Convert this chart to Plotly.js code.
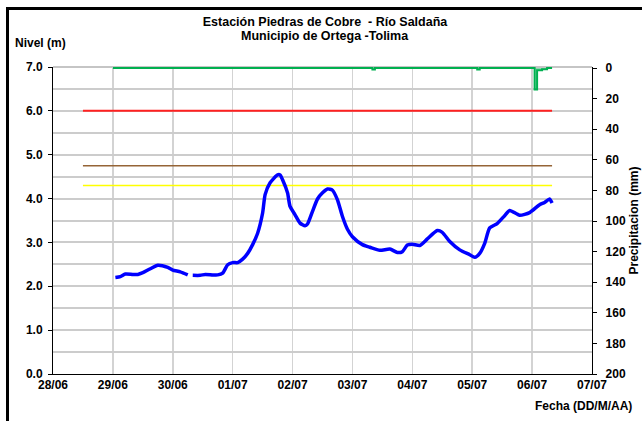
<!DOCTYPE html>
<html><head><meta charset="utf-8">
<script src="https://cdn.plot.ly/plotly-3.0.1.min.js"></script>
<style>
html,body{margin:0;padding:0;overflow:hidden;background:#fff;}
#chart{position:absolute;left:0;top:0;width:642px;height:421px;}
#frame{position:absolute;left:6px;top:7px;width:700px;height:500px;border-left:3px solid #000;border-top:3px solid #000;pointer-events:none;}
</style></head><body>
<div id="chart"></div><div id="frame"></div>
<script>
// ---- Data ----
const levelTimes = [
 '2011-06-29 01:00','2011-06-29 03:00','2011-06-29 05:00','2011-06-29 08:00','2011-06-29 10:00',
 '2011-06-29 12:00','2011-06-29 15:00','2011-06-29 18:00','2011-06-29 22:00','2011-06-30 00:00',
 '2011-06-30 03:00','2011-06-30 06:00','2011-06-30 07:00','2011-06-30 08:00','2011-06-30 11:00',
 '2011-06-30 13:00','2011-06-30 16:00','2011-06-30 18:00','2011-06-30 20:00','2011-06-30 22:00',
 '2011-07-01 00:00','2011-07-01 02:00','2011-07-01 04:00','2011-07-01 06:00','2011-07-01 08:00',
 '2011-07-01 10:00','2011-07-01 12:00','2011-07-01 13:00','2011-07-01 15:00','2011-07-01 18:00',
 '2011-07-01 19:00','2011-07-01 20:00','2011-07-01 22:00','2011-07-01 23:00','2011-07-02 01:00',
 '2011-07-02 03:00','2011-07-02 05:00','2011-07-02 06:00','2011-07-02 08:00','2011-07-02 10:00',
 '2011-07-02 12:00','2011-07-02 14:00','2011-07-02 16:00','2011-07-02 18:00','2011-07-02 20:00',
 '2011-07-02 22:00','2011-07-03 00:00','2011-07-03 04:00','2011-07-03 07:00','2011-07-03 11:00',
 '2011-07-03 15:00','2011-07-03 18:00','2011-07-03 20:00','2011-07-03 22:00','2011-07-04 00:00',
 '2011-07-04 03:00','2011-07-04 06:00','2011-07-04 10:00','2011-07-04 12:00','2011-07-04 15:00',
 '2011-07-04 19:00','2011-07-04 23:00','2011-07-05 01:00','2011-07-05 03:00','2011-07-05 05:00',
 '2011-07-05 07:00','2011-07-05 10:00','2011-07-05 13:00','2011-07-05 15:00','2011-07-05 19:00',
 '2011-07-05 23:00','2011-07-06 03:00','2011-07-06 05:00','2011-07-06 07:00','2011-07-06 08:00'
];
const levelValues = [
 2.20,2.22,2.28,2.27,2.27,
 2.31,2.40,2.48,2.43,2.37,
 2.33,2.26,null,2.25,2.25,
 2.27,2.26,2.26,2.30,2.49,
 2.54,2.54,2.62,2.75,2.95,
 3.21,3.67,4.09,4.36,4.54,
 4.54,4.43,4.13,3.82,3.63,
 3.44,3.38,3.42,3.71,3.99,
 4.13,4.22,4.19,3.97,3.59,
 3.30,3.13,2.95,2.89,2.82,
 2.85,2.77,2.79,2.94,2.96,
 2.93,3.08,3.27,3.23,3.02,
 2.83,2.72,2.66,2.75,2.98,
 3.33,3.43,3.61,3.73,3.62,
 3.68,3.86,3.91,3.99,3.90
];
const precipTimes = [
 '2011-06-29 00:00','2011-07-03 08:00','2011-07-03 09:00','2011-07-05 02:00','2011-07-05 03:00',
 '2011-07-06 01:00','2011-07-06 02:00','2011-07-06 04:00','2011-07-06 06:00','2011-07-06 08:00'
];
const precipValues = [0,1,0,1,0,14,1.5,0.8,0,0];

const thresholdValues = [6.0, 4.75, 4.3];
const thresholdStart = '2011-06-28 12:00';
const thresholdEnd = '2011-07-06 08:00';

const xRange = ['2011-06-28 00:00','2011-07-07 00:00'];
const levelTickVals = [0,1,2,3,4,5,6,7];
const levelGridVals = [0.5,1.5,2.5,3.5,4.5,5.5,6.5];
const titleLine1 = 'Estación Piedras de Cobre  - Río Saldaña';
const titleLine2 = 'Municipio de Ortega -Tolima';

// ---- Styles ----
const thresholdColors = ['#FF2020', '#956436', '#FFFF00'];
const thresholdWidths = [2, 1.6, 1.5];
const FONT = 'Liberation Sans, Arial, sans-serif';
const GRID = '#cccccc';

const traces = [];
thresholdValues.forEach((v,i)=>{
  traces.push({x:[thresholdStart,thresholdEnd], y:[v,v], mode:'lines', type:'scatter',
    line:{color:thresholdColors[i], width:thresholdWidths[i]}, hoverinfo:'skip', showlegend:false});
});
traces.push({x:precipTimes, y:precipValues, yaxis:'y2', type:'scatter', mode:'lines',
  line:{color:'#00B050', width:2, shape:'hv'}, fill:'tozeroy', fillcolor:'rgba(0,176,80,0.45)', showlegend:false});
traces.push({x:levelTimes, y:levelValues, type:'scatter', mode:'lines', connectgaps:false,
  line:{color:'#0000FF', width:3.5, shape:'spline', smoothing:0.6}, showlegend:false});

const allLevelTicks = levelTickVals.concat(levelGridVals).sort((a,b)=>a-b);

const layout = {
  width:642, height:421,
  margin:{l:53, r:50, t:67, b:47, pad:0},
  paper_bgcolor:'#ffffff', plot_bgcolor:'#ffffff',
  font:{family:FONT, color:'#000'},
  showlegend:false,
  title:{text:titleLine1, x:325/642, xref:'container', xanchor:'center', y:1-22/421, yref:'container', yanchor:'middle',
    font:{size:12.5, weight:700, family:FONT}},
  xaxis:{type:'date', range:xRange, dtick:86400000, tick0:'2011-06-28', tickformat:'%d/%m',
    showgrid:true, gridcolor:'#d3d3d3', gridwidth:1.5, showline:true, linecolor:'#000', linewidth:1,
    ticks:'', tickfont:{size:12, weight:700, family:FONT}, zeroline:false},
  yaxis:{range:[0,7], tickmode:'array', tickvals:allLevelTicks,
    ticktext:allLevelTicks.map(v=>levelTickVals.includes(v)?v.toFixed(1):''),
    showgrid:true, gridcolor:GRID, gridwidth:2,
    showline:true, linecolor:'#000', linewidth:1, ticks:'',
    ticklabelstandoff:7, tickfont:{size:12, weight:700, family:FONT}, zeroline:false},
  yaxis3:{overlaying:'y', side:'left', anchor:'x', range:[0,7], tickmode:'array', tickvals:levelTickVals,
    showticklabels:false, showgrid:false, showline:false, zeroline:false, ticks:'outside', ticklen:4, tickcolor:'#000'},
  yaxis2:{overlaying:'y', side:'right', range:[200,-0.7], tickmode:'linear', dtick:20, tick0:0, showgrid:false,
    showline:true, linecolor:'#000', linewidth:1.2, ticks:'outside', ticklen:4, tickcolor:'#000',
    ticklabelstandoff:6, tickfont:{size:12, weight:700, family:FONT}, zeroline:false,
    title:{text:'Precipitacion (mm)', font:{size:12, weight:700, family:FONT}, standoff:4}},
  shapes:[{type:'line', xref:'paper', yref:'paper', x0:0, x1:1, y0:1, y1:1, line:{color:'#8c8c8c', width:1.2}, layer:'below'}],
  annotations:[
    {text:titleLine2, xref:'paper', yref:'paper', x:(325-53)/539, y:(374-36)/307, xanchor:'center', yanchor:'middle', showarrow:false, font:{size:12.5, weight:700, family:FONT}},
    {text:'Nivel (m)', xref:'paper', yref:'paper', x:-0.0742, y:1.0792, xanchor:'left', yanchor:'middle', showarrow:false, font:{size:12, weight:700, family:FONT}},
    {text:'Fecha (DD/M/AA)', xref:'paper', yref:'paper', x:1.0779, y:-0.1042, xanchor:'right', yanchor:'middle', showarrow:false, font:{size:12, weight:700, family:FONT}}
  ]
};
// invisible placeholder trace so the tick-only yaxis3 is rendered
traces.unshift({x:[xRange[0]], y:[null], yaxis:'y3', type:'scatter', mode:'lines', hoverinfo:'skip', showlegend:false});
Plotly.newPlot('chart', traces, layout, {staticPlot:true, displayModeBar:false});
</script></body></html>
